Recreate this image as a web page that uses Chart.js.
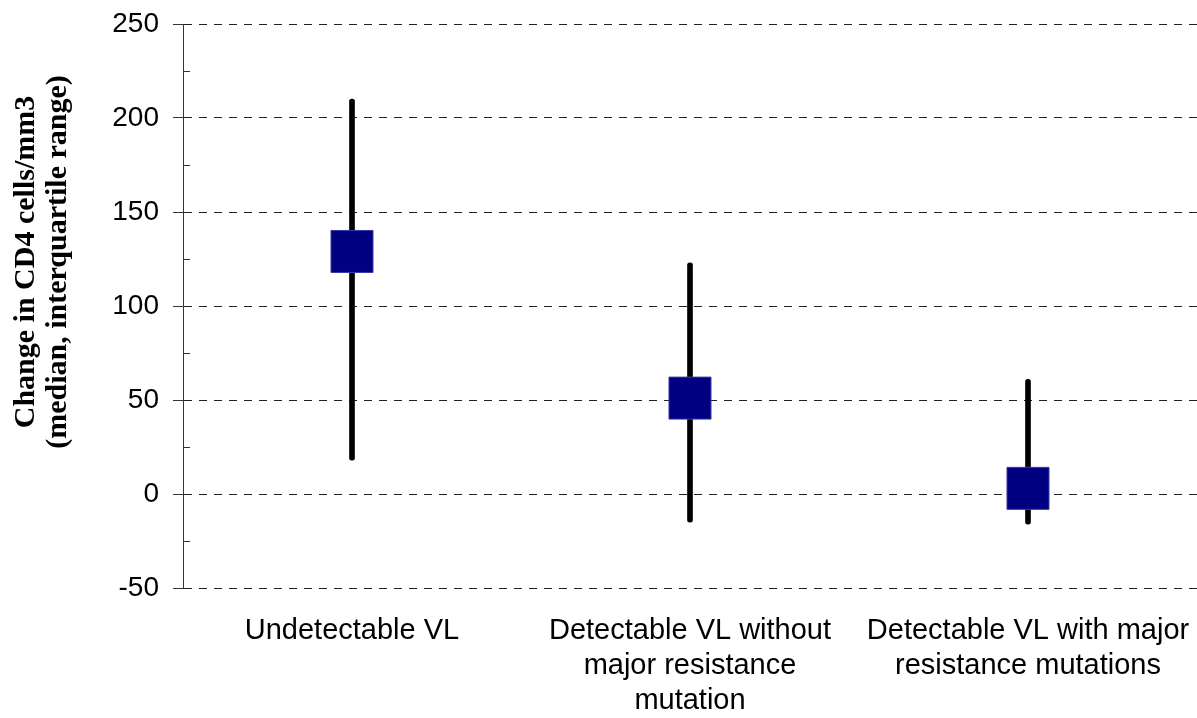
<!DOCTYPE html>
<html>
<head>
<meta charset="utf-8">
<script src="https://cdn.jsdelivr.net/npm/chart.js@4/dist/chart.umd.min.js"></script>
<style>
  html, body { margin: 0; padding: 0; background: #fff; }
  #c { display: block; }
</style>
</head>
<body>
<canvas id="c" width="1197" height="718"></canvas>
<script>
const categories = [
  ["Undetectable VL"],
  ["Detectable VL without", "major resistance", "mutation"],
  ["Detectable VL with major", "resistance mutations"]
];
const medians = [129, 51, 3];
const lowerQuartile = [18, -15, -16];
const upperQuartile = [210, 123, 61];
const yMin = -50;
const yMax = 250;
const yStep = 50;
const minorTickValues = [-25, 25, 75, 125, 175, 225];
const yTitleLines = ["Change in CD4 cells/mm3", "(median, interquartile range)"];

const whiskerData = categories.map((c, i) => [lowerQuartile[i], upperQuartile[i]]);

const minorTicksPlugin = {
  id: 'minorTicks',
  afterDraw(chart) {
    const y = chart.scales.y;
    const ctx = chart.ctx;
    const left = chart.chartArea.left;
    ctx.save();
    ctx.strokeStyle = '#333';
    ctx.lineWidth = 1;
    ctx.beginPath();
    minorTickValues.forEach(v => {
      const py = Math.round(y.getPixelForValue(v)) + 0.5;
      ctx.moveTo(left, py);
      ctx.lineTo(left + 7, py);
    });
    ctx.stroke();
    ctx.restore();
  }
};

const yTitlePlugin = {
  id: 'yTitle',
  afterDraw(chart) {
    const ctx = chart.ctx;
    ctx.save();
    ctx.fillStyle = '#000';
    ctx.font = 'bold 30px "Liberation Serif", "Times New Roman", serif';
    ctx.textAlign = 'center';
    ctx.textBaseline = 'alphabetic';
    const baselines = [34, 66];
    yTitleLines.forEach((line, i) => {
      ctx.save();
      ctx.translate(baselines[i], 262);
      ctx.rotate(-Math.PI / 2);
      ctx.fillText(line, 0, 0);
      ctx.restore();
    });
    ctx.restore();
  }
};

new Chart(document.getElementById('c'), {
  type: 'bar',
  data: {
    labels: categories,
    datasets: [
      {
        type: 'line',
        label: 'Median',
        data: medians,
        showLine: false,
        pointStyle: 'rect',
        pointRadius: 29.7,
        pointHoverRadius: 29.7,
        pointBackgroundColor: '#000080',
        pointBorderColor: '#3a3aa8',
        pointBorderWidth: 1,
        clip: false,
        order: 0
      },
      {
        type: 'bar',
        label: 'Interquartile range',
        data: whiskerData,
        backgroundColor: '#000',
        borderWidth: 0,
        barThickness: 5,
        borderRadius: 2.5,
        borderSkipped: false,
        order: 1
      }
    ]
  },
  options: {
    responsive: false,
    animation: false,
    events: [],
    layout: { autoPadding: false, padding: { left: 0, right: 0, top: 24, bottom: 0 } },
    plugins: {
      legend: { display: false },
      tooltip: { enabled: false }
    },
    scales: {
      x: {
        type: 'category',
        offset: true,
        grid: { display: false, drawTicks: false },
        border: { display: false },
        ticks: {
          color: '#000',
          padding: 26,
          maxRotation: 0,
          minRotation: 0,
          autoSkip: false,
          font: { family: '"Liberation Sans", Arial, sans-serif', size: 29, lineHeight: 1.2 }
        },
        afterFit(scale) {
          scale.height = 130;
          scale.paddingLeft = 0;
          scale.paddingRight = 0;
        }
      },
      y: {
        min: yMin,
        max: yMax,
        ticks: {
          stepSize: yStep,
          color: '#000',
          padding: 14,
          font: { family: '"Liberation Sans", Arial, sans-serif', size: 28 }
        },
        grid: {
          color: '#222',
          lineWidth: 1,
          tickLength: 10,
          tickBorderDash: [],
          tickColor: '#333'
        },
        border: { display: true, color: '#333', width: 1, dash: [8, 7] },
        title: { display: false },
        afterFit(scale) {
          scale.width = 183;
          scale.paddingTop = 0;
          scale.paddingBottom = 0;
        }
      }
    }
  },
  plugins: [minorTicksPlugin, yTitlePlugin]
});
</script>
</body>
</html>
